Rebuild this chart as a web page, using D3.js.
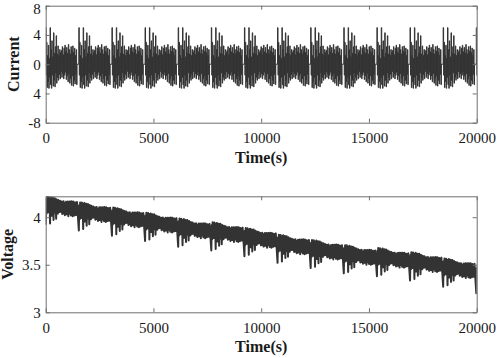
<!DOCTYPE html>
<html>
<head>
<meta charset="utf-8">
<script src="https://cdn.jsdelivr.net/npm/d3@7"></script>
<style>
  body { margin: 0; background: #fff; }
  svg { display: block; font-family: "Liberation Serif", "Times New Roman", serif; }
  .tick text { font-family: "Liberation Serif", "Times New Roman", serif; font-size: 15px; fill: #1a1a1a; }
  .tick line, .domain { stroke: #6e6e6e; }
  .axis-label { font-family: "Liberation Serif", "Times New Roman", serif; font-size: 16px; font-weight: bold; fill: #1a1a1a; }
</style>
</head>
<body>
<div id="vis"></div>
<script>
const W = 498, H = 358;

const cycleStarts = [0, 1537, 3074, 4611, 6148, 7685, 9222, 10759, 12296, 13833, 15370, 16907, 18444, 19981];
const stepSec = 20.2;

// one load cycle of current (A), one value per step
const currentProfile = [
  5.0, -1.5, 3.0, -3.2, 1.2, -2.4, 2.6, -3.3, 0.8, -1.8,
  5.0, -2.8, 2.0, -3.3, 3.2, -1.5, 1.0, -3.0, 4.3, -2.2,
  1.5, -3.1, 2.4, -1.2, 3.9, -2.6, 1.4, -1.8, 2.5, -2.2,
  1.2, -1.4, 2.0, -2.0, 1.6, -1.0, 1.9, -1.8, 2.4, -1.3,
  1.3, -2.0, 2.2, -1.5, 2.6, -1.1, 1.7, -2.1, 2.3, -1.6,
  1.5, -2.4, 2.7, -1.3, 2.0, -2.6, 1.4, -2.0, 2.4, -2.9,
  1.8, -1.6, 2.5, -3.0, 1.6, -2.2, 2.2, -2.7, 1.2, -1.4,
  2.0, -2.8
];
const restCurrent = 0;

// voltage below the cycle's starting level (V), one value per step
const voltageDrop = [
  0.300, 0.033, 0.182, 0.004, 0.115, 0.018, 0.169, 0.006, 0.104, 0.032,
  0.285, 0.017, 0.150, 0.010, 0.205, 0.045, 0.118, 0.018, 0.250, 0.032,
  0.139, 0.020, 0.174, 0.058, 0.235, 0.031, 0.140, 0.047, 0.182, 0.040,
  0.136, 0.060, 0.166, 0.046, 0.153, 0.073, 0.165, 0.055, 0.186, 0.069,
  0.148, 0.053, 0.182, 0.067, 0.199, 0.079, 0.166, 0.056, 0.190, 0.069,
  0.163, 0.055, 0.210, 0.080, 0.183, 0.055, 0.164, 0.066, 0.202, 0.053,
  0.181, 0.079, 0.210, 0.055, 0.177, 0.069, 0.201, 0.063, 0.166, 0.090,
  0.196, 0.065
];
const restDrop = 0.06;

// voltage at the start of each cycle (V)
const cycleTopVoltage = [4.22, 4.16, 4.105, 4.05, 3.99, 3.95, 3.89, 3.82, 3.765, 3.71, 3.68, 3.635, 3.57, 3.50];

const timeTicks = [0, 5000, 10000, 15000, 20000];
const currentTicks = [-8, -4, 0, 4, 8];
const currentTickLabels = ["-8", "4", "0", "4", "8"];
const voltageTicks = [3, 3.5, 4];
const voltageTickLabels = ["3", "3.5", "4"];

// build the series
const currentData = [];
const voltageData = [];
cycleStarts.forEach((t0, k) => {
    currentProfile.forEach((v, i) => {
        currentData.push({ t: t0 + i * stepSec, v: v });
        voltageData.push({ t: t0 + i * stepSec, v: cycleTopVoltage[k] - voltageDrop[i] });
    });
    const tRest = t0 + currentProfile.length * stepSec;
    currentData.push({ t: tRest, v: restCurrent });
    voltageData.push({ t: tRest, v: cycleTopVoltage[k] - restDrop });
});

const svg = d3.select("#vis").append("svg")
    .attr("width", W)
    .attr("height", H);

function panel(opts) {
    const { left, right, top, bottom, yDomain, yTicks, yLabels, data, curve, strokeWidth, label, labelX, id } = opts;
    const w = right - left, h = bottom - top;
    const x = d3.scaleLinear().domain([0, 20000]).range([0, w]);
    const y = d3.scaleLinear().domain(yDomain).range([h, 0]);

    const g = svg.append("g").attr("transform", `translate(${left},${top})`);

    g.append("clipPath").attr("id", id)
        .append("rect").attr("width", w).attr("height", h);

    const line = d3.line().x(d => x(d.t)).y(d => y(d.v)).curve(curve);
    g.append("path")
        .datum(data)
        .attr("clip-path", `url(#${id})`)
        .attr("fill", "none")
        .attr("stroke", "#333")
        .attr("stroke-width", strokeWidth)
        .attr("stroke-linejoin", "round")
        .attr("d", line);

    const axes = [];
    axes.push(g.append("g")
        .attr("transform", `translate(0,${h})`)
        .call(d3.axisBottom(x).tickValues(timeTicks).tickFormat(d3.format("d"))
            .tickSizeInner(-4).tickSizeOuter(0).tickPadding(10)));
    axes.push(g.append("g")
        .call(d3.axisTop(x).tickValues(timeTicks).tickFormat("")
            .tickSizeInner(-4).tickSizeOuter(0)));
    const yAxis = g.append("g")
        .call(d3.axisLeft(y).tickValues(yTicks).tickFormat((d, i) => yLabels[i])
            .tickSizeInner(-4).tickSizeOuter(0).tickPadding(5));
    axes.push(yAxis);
    axes.push(g.append("g")
        .attr("transform", `translate(${w},0)`)
        .call(d3.axisRight(y).tickValues(yTicks).tickFormat("")
            .tickSizeInner(-4).tickSizeOuter(0)));

    axes.forEach(a => a.attr("font-family", null).attr("font-size", null));

    // keep the topmost label inside the picture
    yAxis.selectAll(".tick text")
        .filter(d => d === yDomain[1])
        .attr("dy", "0.5em");

    g.append("text")
        .attr("class", "axis-label")
        .attr("text-anchor", "middle")
        .attr("x", w / 2)
        .attr("y", h + 40)
        .text("Time(s)");

    g.append("text")
        .attr("class", "axis-label")
        .attr("text-anchor", "middle")
        .attr("transform", `translate(${labelX - left},${h / 2}) rotate(-90)`)
        .text(label);
}

panel({
    id: "clip-current",
    left: 45.7, right: 476.7, top: 5.7, bottom: 122.7,
    yDomain: [-8, 8], yTicks: currentTicks, yLabels: currentTickLabels,
    data: currentData, curve: d3.curveStepAfter, strokeWidth: 1,
    label: "Current", labelX: 19
});

panel({
    id: "clip-voltage",
    left: 45.7, right: 476.7, top: 196.3, bottom: 312.3,
    yDomain: [3, 4.22], yTicks: voltageTicks, yLabels: voltageTickLabels,
    data: voltageData, curve: d3.curveLinear, strokeWidth: 2,
    label: "Voltage", labelX: 13
});
</script>
</body>
</html>
